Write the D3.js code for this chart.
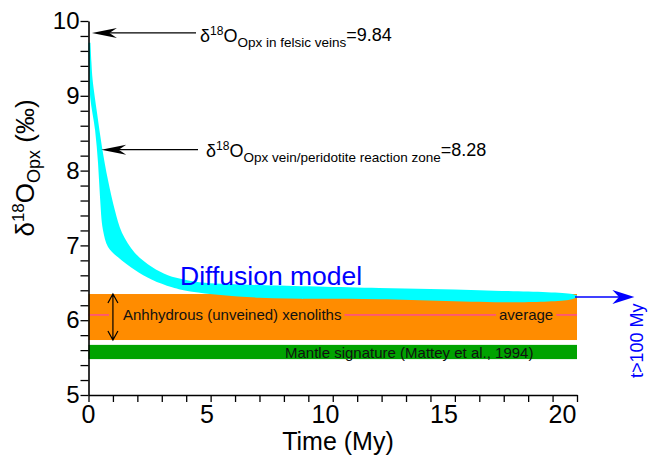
<!DOCTYPE html>
<html>
<head>
<meta charset="utf-8">
<script src="https://cdn.jsdelivr.net/npm/d3@7"></script>
<style>
  body { margin: 0; background: #fff; }
  svg { font-family: "Liberation Sans", Arial, sans-serif; }
</style>
</head>
<body>
<svg width="648" height="462"></svg>
<script>
// Diffusion model band (upper / lower edges)
var upperT = [0.08, 0.12, 0.17, 0.35, 0.55, 0.80, 1.08, 1.37, 1.90, 2.60, 3.25, 3.95, 4.77, 7.0, 11.9, 16.0, 19.8, 20.0];
var upperV = [9.71, 9.45, 9.21, 8.77, 8.32, 7.87, 7.47, 7.17, 6.90, 6.71, 6.60, 6.54, 6.50, 6.47, 6.43, 6.40, 6.35, 6.33];
var lowerT = [0, 0.02, 0.07, 0.27, 0.39, 0.47, 0.59, 0.80, 1.21, 1.90, 2.60, 3.42, 4.24, 7.0, 11.9, 17.7, 19.8, 20.0];
var lowerV = [9.71, 9.40, 8.98, 8.54, 8.10, 7.65, 7.21, 6.98, 6.84, 6.67, 6.54, 6.44, 6.38, 6.30, 6.28, 6.24, 6.28, 6.31];

// reference ranges
var xenolithRange = [5.735, 6.35];
var xenolithAvg = 6.07;
var mantleRange = [5.48, 5.67];
var veinValue = 9.84;
var reactionValue = 8.28;
var timeSpan = [0, 20];

var xTickLabels = [0, 5, 10, 15, 20];
var yTickLabels = [5, 6, 7, 8, 9, 10];

var svg = d3.select("svg");

var x = d3.scaleLinear().domain([0, 20]).range([88.5, 577]);
var y = d3.scaleLinear().domain([5, 10]).range([395, 21]);
// the printed x labels sit a little off the tick marks in the original
var xLab = d3.scaleLinear().domain([0, 20]).range([88, 562]);

// bands
svg.append("rect")
    .attr("x", x(timeSpan[0])).attr("width", x(timeSpan[1]) - x(timeSpan[0]))
    .attr("y", y(xenolithRange[1])).attr("height", y(xenolithRange[0]) - y(xenolithRange[1]))
    .attr("fill", "#ff8c00");
svg.append("rect")
    .attr("x", x(timeSpan[0])).attr("width", x(timeSpan[1]) - x(timeSpan[0]))
    .attr("y", y(mantleRange[1])).attr("height", y(mantleRange[0]) - y(mantleRange[1]))
    .attr("fill", "#00a300");

// average line
svg.append("line")
    .attr("x1", x(0)).attr("x2", x(20))
    .attr("y1", y(xenolithAvg)).attr("y2", y(xenolithAvg))
    .attr("stroke", "#ff2bd4").attr("stroke-width", 1);

// diffusion band
var upper = upperT.map(function(t, i) { return [t, upperV[i]]; });
var lower = lowerT.map(function(t, i) { return [t, lowerV[i]]; }).reverse();
var line = d3.line()
    .x(function(d) { return x(d[0]); })
    .y(function(d) { return y(d[1]); })
    .curve(d3.curveCatmullRom);
svg.append("path")
    .attr("d", line(upper) + "L" + line(lower).slice(1) + "Z")
    .attr("fill", "#00ffff");

// band labels, with orange behind so the average line breaks
function bandLabel(txt, xp, yp) {
  var g = svg.append("g");
  var bg = g.append("rect").attr("fill", "#ff8c00");
  var t = g.append("text").attr("x", xp).attr("y", yp)
      .attr("font-size", 15).attr("fill", "#111").text(txt);
  var b = t.node().getBBox();
  bg.attr("x", b.x - 3).attr("y", b.y).attr("width", b.width + 6).attr("height", b.height);
  return bg;
}
var bgA = bandLabel("Anhhydrous (unveined) xenoliths", 123, 320);
bgA.attr("width", +bgA.attr("width") + (+bgA.attr("x") - 109)).attr("x", 109);
bandLabel("average", 499, 320);

svg.append("text").attr("x", 285).attr("y", 358)
    .attr("font-size", 15).attr("fill", "#111")
    .text("Mantle signature (Mattey et al., 1994)");

// double arrow across the xenolith range
var ax = x(1);
svg.append("path")
    .attr("d", "M" + ax + "," + y(xenolithRange[1]) + "V" + y(xenolithRange[0]) +
      "M" + (ax - 5) + "," + (y(xenolithRange[1]) + 9) + "L" + ax + "," + y(xenolithRange[1]) + "L" + (ax + 5) + "," + (y(xenolithRange[1]) + 9) +
      "M" + (ax - 5) + "," + (y(xenolithRange[0]) - 9) + "L" + ax + "," + y(xenolithRange[0]) + "L" + (ax + 5) + "," + (y(xenolithRange[0]) - 9))
    .attr("fill", "none").attr("stroke", "#000").attr("stroke-width", 1.2);

// axes
var yAxis = d3.axisLeft(y)
    .tickValues(d3.range(5, 10.001, 0.2))
    .tickSize(8).tickSizeOuter(0).tickPadding(1)
    .tickFormat(function(d) { return yTickLabels.indexOf(Math.round(d * 10) / 10) >= 0 ? d3.format("d")(d) : ""; });
var gy = svg.append("g").attr("transform", "translate(" + x(0) + ",0)").call(yAxis);
gy.selectAll("text").attr("font-size", 24).attr("fill", "#000").attr("font-family", "Liberation Sans, Arial, sans-serif");

var xAxis = d3.axisBottom(x).tickValues(d3.range(0, 21)).tickSize(7).tickSizeOuter(0).tickFormat("");
var gx = svg.append("g").attr("transform", "translate(0," + y(5) + ")").call(xAxis);
var xLabAxis = d3.axisBottom(xLab).tickValues(xTickLabels).tickSize(0).tickPadding(10);
var gxl = svg.append("g").attr("transform", "translate(0," + y(5) + ")").call(xLabAxis);
gxl.select(".domain").remove();
gxl.selectAll("text").attr("font-size", 25).attr("fill", "#000").attr("font-family", "Liberation Sans, Arial, sans-serif");

svg.selectAll(".domain").attr("stroke-width", 1.6);
svg.selectAll(".tick line").attr("stroke-width", 1.3);

// axis titles
svg.append("text").attr("x", 338).attr("y", 450)
    .attr("text-anchor", "middle").attr("font-size", 25).text("Time (My)");

var yt = svg.append("text")
    .attr("transform", "translate(34,168) rotate(-90)")
    .attr("text-anchor", "middle").attr("font-size", 26);
yt.append("tspan").text("\u03b4");
yt.append("tspan").attr("font-size", 17).attr("dy", -10).text("18");
yt.append("tspan").attr("dy", 10).text("O");
yt.append("tspan").attr("font-size", 18).attr("dy", 6).text("Opx");
yt.append("tspan").attr("dy", -6).text(" (\u2030)");

// arrow helper: filled barbed head
function arrow(x1, x2, yy, col, len, half) {
  var dir = x2 < x1 ? 1 : -1;
  svg.append("line").attr("x1", x1).attr("x2", x2 + dir * len * 0.6).attr("y1", yy).attr("y2", yy)
      .attr("stroke", col).attr("stroke-width", 1.3);
  svg.append("path")
      .attr("d", "M" + x2 + "," + yy +
        "L" + (x2 + dir * len) + "," + (yy - half) +
        "L" + (x2 + dir * len * 0.7) + "," + yy +
        "L" + (x2 + dir * len) + "," + (yy + half) + "Z")
      .attr("fill", col);
}

arrow(196, x(0.14), y(veinValue), "#000", 25, 5);
arrow(198, x(0.52), y(reactionValue), "#000", 25, 5);
arrow(x(20) - 2, x(22.35), y(6.31), "#0000ff", 22, 7);

// annotations
function deltaLabel(xp, yp, sub, val) {
  var t = svg.append("text").attr("x", xp).attr("y", yp).attr("font-size", 18).attr("fill", "#000");
  t.append("tspan").text("\u03b4");
  t.append("tspan").attr("font-size", 12).attr("dy", -7).text("18");
  t.append("tspan").attr("dy", 7).text("O");
  t.append("tspan").attr("font-size", 13.5).attr("dy", 5).text(sub);
  t.append("tspan").attr("dy", -6).text("=" + val);
}
deltaLabel(200, 42, "Opx in felsic veins", "9.84");
deltaLabel(206, 157, "Opx vein/peridotite reaction zone", "8.28");

svg.append("text").attr("x", 180).attr("y", 285)
    .attr("font-size", 26.5).attr("fill", "#0000ff").text("Diffusion model");

svg.append("text").attr("transform", "translate(643,378) rotate(-90)")
    .attr("font-size", 18).attr("fill", "#0000ff").text("t>100 My");
</script>
</body>
</html>
